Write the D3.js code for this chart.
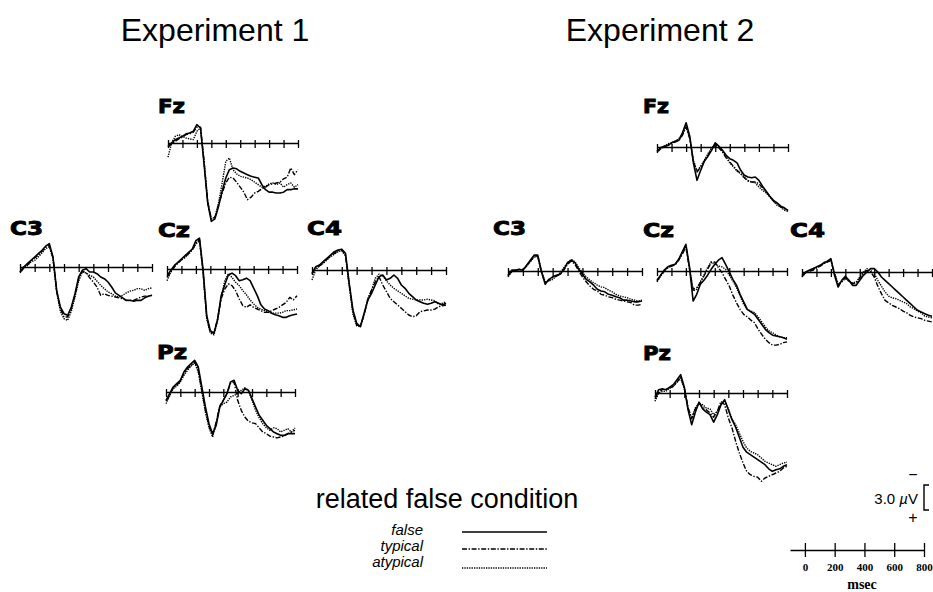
<!DOCTYPE html>
<html><head><meta charset="utf-8">
<script src="https://cdn.jsdelivr.net/npm/d3@7"></script>
<style>body{margin:0;background:#fff}</style>
</head><body>
<svg id="c" width="933" height="592"></svg>
<script>
// ---------- DATA ----------
const timesMs = [-100,-75,-50,-25,0,25,50,75,100,125,150,175,200,225,250,275,300,325,350,375,400,425,450,475,500,525,550,575,600,625,650,675,700,725,750,775,800];
const axisTicksMs = [-100,0,100,200,300,400,500,600,700,800];
const scaleTicksMs = [0,200,400,600,800];
const scaleUnit = "msec";
const experiments = ["Experiment 1","Experiment 2"];
const electrodes = ["Fz","C3","Cz","C4","Pz"];
const conditions = ["false","typical","atypical"];
const legendTitle = "related false condition";
const calibrationUV = 3.0;

// values in µV (negative plotted up)
const e1FzFalse    = [0.4,0,-0.4,-0.6,-0.8,-1.1,-1.2,-1.4,-2.2,-1.8,2.6,7.2,9.4,9.1,7.6,5.8,4.2,3.2,3.0,3.1,3.4,3.6,3.8,4.0,4.1,4.2,5.0,5.6,5.9,5.9,6.0,6.0,5.9,5.6,5.6,5.5,5.5];
const e1FzTypical  = [0.5,0.1,-0.2,-0.5,-0.7,-1.0,-1.1,-1.3,-1.9,-1.9,2.2,7.0,9.1,8.9,7.4,6.0,4.8,4.1,4.2,4.7,5.3,5.9,6.8,6.5,6.0,5.8,5.5,5.3,5.0,4.9,4.8,4.7,4.3,4.1,3.0,3.8,3.2];
const e1FzAtypical = [1.7,0,-0.8,-1.0,-0.8,-0.6,-0.5,-0.4,-1.4,-1.8,2.4,7.2,9.1,8.9,7.2,4.8,2.2,1.8,3.2,3.7,4.0,4.1,4.2,4.4,4.7,5.0,5.3,5.2,4.9,4.8,5.0,4.8,5.3,5.0,4.8,5.3,5.0];

const e1C3False    = [0.6,0,-0.4,-0.8,-1.2,-1.6,-2.0,-2.5,-2.8,-1.2,2.8,4.8,5.6,5.8,4.8,3.2,1.2,0.4,0.2,0.6,0.6,0.8,1.2,1.4,1.8,2.4,3.1,3.4,3.7,4.0,4.0,4.1,4.0,4.0,3.7,3.5,3.4];
const e1C3Typical  = [0.6,0.1,-0.2,-0.7,-1.1,-1.4,-1.9,-2.4,-2.6,-1.1,2.9,5.0,6.0,6.0,5.0,3.4,1.4,0.5,0.7,1.3,1.8,2.4,3.4,3.2,3.4,3.5,3.6,3.7,3.8,4.0,4.0,4.0,3.8,3.6,3.5,3.5,3.4];
const e1C3Atypical = [0.7,0.2,-0.2,-0.6,-0.8,-1.2,-1.7,-2.2,-2.4,-1.0,3.0,5.3,6.2,6.4,5.3,3.6,1.7,0.6,0.7,1.0,1.2,1.7,2.2,2.6,3.0,3.2,3.5,3.6,3.4,3.1,2.9,2.8,2.6,2.6,2.8,2.6,2.5];

const e1CzFalse    = [0.8,0.2,-0.4,-0.8,-1.2,-1.6,-2.0,-2.4,-3.4,-3.7,0.1,5.6,7.4,7.7,6.1,3.2,1.9,0.7,0.5,0.8,1.4,1.3,1.1,1.4,2.3,3.2,4.3,4.8,5.0,5.3,5.5,5.6,5.8,5.8,5.6,5.5,5.4];
const e1CzTypical  = [1.0,0.4,-0.2,-0.7,-1.1,-1.4,-1.9,-2.3,-3.1,-3.5,0.4,5.8,7.6,7.7,6.0,3.6,2.4,1.8,2.0,2.6,3.6,4.4,4.6,4.3,4.6,4.8,5.0,5.2,5.2,5.0,4.8,4.6,4.3,4.0,3.4,3.7,3.2];
const e1CzAtypical = [1.4,0.4,-0.4,-0.7,-1.1,-1.4,-1.8,-2.3,-3.0,-3.4,0.5,6.0,7.7,7.9,6.2,3.4,1.4,0.6,1.0,1.6,2.0,2.6,3.1,3.7,4.2,4.6,4.8,5.0,5.2,5.3,5.3,5.3,5.2,5.0,5.0,4.9,4.8];

const e1C4False    = [0.4,-0.4,-0.6,-1.0,-1.4,-1.8,-2.2,-2.4,-2.5,-2.0,1.6,4.8,6.4,6.8,5.2,3.6,2.8,1.8,0.8,0.6,1.2,1.0,0.6,1.0,1.8,2.2,2.8,3.2,3.6,3.8,4.0,4.1,4.0,3.8,4.0,4.2,4.0];
const e1C4Typical  = [0.5,-0.2,-0.5,-0.8,-1.3,-1.7,-2.0,-2.3,-2.4,-1.8,1.8,5.0,6.6,6.7,5.4,3.6,2.4,1.4,0.8,1.8,2.6,3.4,3.8,4.2,4.6,5.0,5.4,5.6,5.5,5.0,4.9,4.8,4.8,4.7,4.4,4.3,4.2];
const e1C4Atypical = [1.2,0,-0.5,-0.8,-1.2,-1.6,-1.9,-2.2,-2.3,-1.7,1.9,5.3,6.7,6.8,5.4,3.4,2.4,1.0,0.5,0.7,1.3,1.8,2.2,2.5,2.8,3.1,3.4,3.5,3.6,3.6,3.6,3.5,3.6,3.7,4.1,4.0,3.8];

const e1PzFalse    = [1.0,0.2,-0.6,-1.0,-1.4,-2.4,-3.0,-3.4,-3.8,-3.0,-0.6,1.8,3.8,5.0,4.0,1.8,1.0,0.2,-1.2,-1.4,-0.2,0.2,-0.4,-0.2,0.8,1.8,2.8,3.4,4.0,4.4,4.8,5.0,5.2,5.2,5.0,5.0,5.0];
const e1PzTypical  = [1.1,0.4,-0.5,-0.8,-1.3,-2.2,-2.8,-3.2,-3.6,-2.6,-0.2,2.2,4.1,5.2,3.6,1.7,1.0,0.2,-1.0,-1.2,1.0,2.2,3.0,3.5,3.7,3.8,4.3,4.8,5.0,5.3,5.4,5.5,5.4,5.3,5.0,4.8,4.6];
const e1PzAtypical = [1.4,0.5,-0.4,-0.7,-1.2,-2.0,-2.6,-3.1,-3.5,-2.4,0,2.4,4.3,5.4,3.8,1.8,1.4,1.2,0.6,0.4,0.2,-0.2,-0.5,-0.2,1.0,2.2,3.1,3.8,4.3,4.6,4.3,4.4,4.8,4.6,4.4,4.8,4.3];

const e2FzFalse    = [0.5,0.1,-0.1,-0.2,-0.5,-0.7,-0.8,-1.7,-2.9,-1.3,1.9,4.0,2.8,1.7,1.1,0.4,-0.5,-0.1,0.4,1.0,1.4,1.6,1.9,2.8,3.4,3.6,3.7,3.6,4.0,4.7,5.3,5.9,6.4,6.7,7.1,7.3,7.6];
const e2FzTypical  = [0.6,0.2,0,-0.2,-0.4,-0.6,-0.8,-1.4,-2.4,-1.0,1.7,3.0,2.4,1.7,1.0,0.2,-0.4,0.1,0.6,1.3,1.8,2.3,2.8,3.2,3.7,4.1,4.2,4.2,4.4,4.9,5.4,5.9,6.5,6.8,7.2,7.4,7.7];
const e2FzAtypical = [0.7,0.2,-0.1,-0.4,-0.5,-0.7,-1.0,-1.6,-2.5,-1.1,1.6,2.9,2.3,1.6,0.8,0.1,-0.2,0,0.5,1.2,1.9,2.4,2.9,3.2,3.6,4.0,4.2,4.3,4.8,5.2,5.5,6.0,6.5,7.0,7.2,7.6,7.7];

const e2C3False    = [0.5,-0.1,-0.1,-0.2,-0.1,-0.7,-1.3,-1.9,-1.9,0.1,1.6,1.0,0.7,0.5,0.4,-0.2,-1.0,-1.3,-1.0,-0.2,0.4,1.0,1.3,1.7,2.2,2.4,2.5,2.8,2.9,3.1,3.2,3.5,3.5,3.6,3.7,3.7,3.6];
const e2C3Typical  = [0.6,0,-0.1,-0.2,-0.1,-0.6,-1.2,-1.7,-1.7,0.2,1.4,1.1,0.8,0.6,0.4,-0.1,-0.8,-1.2,-0.8,0,0.7,1.3,1.8,2.2,2.4,2.8,2.9,3.1,3.2,3.4,3.5,3.6,3.7,3.8,4.1,4.1,4.0];
const e2C3Atypical = [0.7,0.1,0,-0.1,-0.2,-0.6,-1.1,-1.7,-1.8,0,1.3,1.2,1.0,0.6,0.2,-0.4,-1.0,-1.4,-1.1,-0.4,0.2,0.7,1.1,1.4,1.7,1.9,2.0,2.3,2.5,2.8,3.0,3.1,3.2,3.4,3.5,3.6,3.5];

const e2CzFalse    = [1.1,0.5,-0.1,-0.5,-0.7,-0.8,-1.4,-2.3,-3.2,-0.5,3.6,2.8,1.6,1.1,0.5,-0.2,-0.8,-1.3,-1.6,-0.8,0.1,1.0,1.7,2.8,3.7,4.6,4.9,5.2,5.8,6.4,7.0,7.4,7.7,7.8,7.9,8.0,8.2];
const e2CzTypical  = [1.2,0.6,0,-0.4,-0.6,-0.7,-1.3,-2.0,-2.9,-0.2,2.2,2.0,1.4,0.6,-0.2,-1.0,-1.1,-0.4,0.2,1.0,1.8,2.9,3.8,4.6,5.2,5.5,5.9,6.2,7.0,7.6,8.2,8.6,8.9,8.9,8.8,8.6,8.5];
const e2CzAtypical = [1.3,0.6,0,-0.4,-0.6,-0.8,-1.3,-2.2,-3.0,-0.4,2.4,2.2,1.3,0.5,-0.4,-1.1,-0.8,-0.6,-0.5,-0.2,0.5,1.2,2.0,3.0,4.0,4.6,4.8,5.0,5.5,6.1,6.7,7.2,7.4,7.7,7.9,8.0,8.0];

const e2C4False    = [0.4,0,-0.2,-0.4,-0.6,-0.8,-1.1,-1.3,-1.6,0.4,1.8,1.0,0.5,1.0,1.6,1.6,1.0,0.4,0,-0.4,-0.4,0,0.6,1.0,1.4,1.8,2.2,2.6,3.0,3.4,3.8,4.2,4.6,4.8,5.0,5.2,5.3];
const e2C4Typical  = [0.5,0.1,-0.1,-0.2,-0.5,-0.7,-1.0,-1.2,-1.4,0.2,1.6,1.1,0.7,1.1,1.4,1.3,0.7,0.1,-0.2,0,0.6,1.7,2.6,3.4,3.7,4.0,4.2,4.4,4.7,4.9,5.2,5.4,5.5,5.6,5.8,5.9,6.0];
const e2C4Atypical = [0.6,0.1,-0.1,-0.4,-0.5,-0.7,-1.0,-1.2,-1.4,0.1,1.4,1.2,0.8,1.1,1.3,1.2,0.6,0,-0.4,-0.2,0.2,1.0,1.7,2.4,2.9,3.1,3.2,3.4,3.6,3.8,4.2,4.4,4.7,4.9,5.3,5.4,5.5];

const e2PzFalse    = [0.5,-0.4,-0.5,-0.4,-0.7,-1.0,-1.6,-2.2,-0.7,2.0,3.8,2.3,1.1,1.9,2.3,2.6,3.5,2.6,1.4,0.8,2.0,3.2,4.1,5.3,6.5,7.1,7.4,7.7,8.0,8.3,8.6,9.1,9.4,9.2,9.1,8.8,8.6];
const e2PzTypical  = [0.7,-0.1,-0.4,-0.4,-0.6,-0.8,-1.3,-1.9,-0.6,1.7,3.1,1.9,1.2,1.7,2.0,2.4,2.9,2.2,1.0,1.4,3.0,4.2,5.8,7.2,8.4,9.4,9.8,10.0,10.1,10.6,10.2,10.0,9.8,9.6,9.4,9.0,8.8];
const e2PzAtypical = [1.0,0,-0.2,-0.2,-0.6,-0.8,-1.3,-1.8,-0.5,1.8,3.0,1.8,1.2,1.4,1.8,1.9,2.6,2.2,1.4,1.0,1.9,3.1,3.8,4.8,5.8,6.6,7.0,7.2,7.4,7.8,8.2,8.4,8.6,8.8,8.6,8.4,8.3];

// ---------- LAYOUT ----------
const pxPerUV = 25 / 3;
const panelLayout = [
  {exp:0, el:"Fz", x:168, y:143, w:130, lx:158, ly:113, lw:27, data:[e1FzFalse,e1FzTypical,e1FzAtypical]},
  {exp:0, el:"C3", x:20,  y:267, w:132, lx:10,  ly:235, lw:33, data:[e1C3False,e1C3Typical,e1C3Atypical]},
  {exp:0, el:"Cz", x:167, y:269, w:130, lx:158, ly:237, lw:32, data:[e1CzFalse,e1CzTypical,e1CzAtypical]},
  {exp:0, el:"C4", x:312, y:270, w:134, lx:307, ly:235, lw:35, data:[e1C4False,e1C4Typical,e1C4Atypical]},
  {exp:0, el:"Pz", x:166, y:392, w:129, lx:157, ly:359, lw:30, data:[e1PzFalse,e1PzTypical,e1PzAtypical]},
  {exp:1, el:"Fz", x:657, y:147, w:131, lx:643, ly:113, lw:26, data:[e2FzFalse,e2FzTypical,e2FzAtypical]},
  {exp:1, el:"C3", x:508, y:271, w:134, lx:493, ly:235, lw:33, data:[e2C3False,e2C3Typical,e2C3Atypical]},
  {exp:1, el:"Cz", x:657, y:271, w:130, lx:643, ly:237, lw:31, data:[e2CzFalse,e2CzTypical,e2CzAtypical]},
  {exp:1, el:"C4", x:802, y:272, w:130, lx:790, ly:237, lw:35, data:[e2C4False,e2C4Typical,e2C4Atypical]},
  {exp:1, el:"Pz", x:655, y:393, w:132, lx:643, ly:360, lw:28, data:[e2PzFalse,e2PzTypical,e2PzAtypical]}
];
const condStyle = {
  "false":    {dash:null,            width:1.6},
  "typical":  {dash:"5,1.6,1.4,1.6", width:1.4},
  "atypical": {dash:"1.3,1.1",       width:1.4}
};

const svg = d3.select("#c");
svg.append("rect").attr("width",933).attr("height",592).attr("fill","#fff");

// titles
svg.append("text").attr("x",215).attr("y",41).attr("text-anchor","middle")
  .attr("font-family","Liberation Sans, Arial, sans-serif").attr("font-size",32).text(experiments[0]);
svg.append("text").attr("x",660).attr("y",41).attr("text-anchor","middle")
  .attr("font-family","Liberation Sans, Arial, sans-serif").attr("font-size",32).text(experiments[1]);

panelLayout.forEach(p => {
  const g = svg.append("g");
  const x = d3.scaleLinear().domain([-100,800]).range([p.x, p.x + p.w]);
  const y = d3.scaleLinear().domain([0, 1]).range([p.y, p.y + pxPerUV]);
  // label
  g.append("text").attr("x",p.lx).attr("y",p.ly)
    .attr("font-family","DejaVu Sans, sans-serif").attr("font-weight","bold").attr("font-size",19)
    .attr("stroke","#000").attr("stroke-width",0.9)
    .attr("textLength",p.lw).attr("lengthAdjust","spacingAndGlyphs").text(p.el);
  // axis
  const ax = g.append("g").attr("transform",`translate(0,${p.y})`)
    .call(d3.axisBottom(x).tickValues(axisTicksMs).tickSize(5).tickSizeOuter(0).tickFormat(""));
  ax.select(".domain").attr("stroke","#000").attr("stroke-width",1.6);
  ax.selectAll(".tick line").attr("stroke","#000").attr("stroke-width",1.3).attr("y1",-3);
  // waveforms
  conditions.forEach((c,ci) => {
    const line = d3.line().x((d,i)=>x(timesMs[i])).y(d=>y(d)).curve(d3.curveLinear);
    g.append("path").attr("d",line(p.data[ci])).attr("fill","none").attr("stroke","#000")
      .attr("stroke-width",condStyle[c].width).attr("stroke-dasharray",condStyle[c].dash)
      .attr("stroke-linejoin","round");
  });
});

// legend
svg.append("text").attr("x",447).attr("y",508).attr("text-anchor","middle")
  .attr("font-family","Liberation Sans, Arial, sans-serif").attr("font-size",27).text(legendTitle);
const legY = [532, 549, 568];
const legTextY = [535, 551, 567];
conditions.forEach((c,i) => {
  svg.append("text").attr("x",423).attr("y",legTextY[i]).attr("text-anchor","end")
    .attr("font-family","Liberation Sans, Arial, sans-serif").attr("font-style","italic").attr("font-size",15).text(c);
  svg.append("line").attr("x1",462).attr("x2",547).attr("y1",legY[i]).attr("y2",legY[i])
    .attr("stroke","#000").attr("stroke-width",condStyle[c].width).attr("stroke-dasharray",condStyle[c].dash);
});

// calibration
const calY = d3.scaleLinear().domain([0, calibrationUV]).range([485, 485 + calibrationUV*pxPerUV]);
svg.append("path").attr("d",`M929,${calY(0)}H924V${calY(calibrationUV)}H929`).attr("fill","none").attr("stroke","#000").attr("stroke-width",1.4);
svg.append("text").attr("x",918).attr("y",504).attr("text-anchor","end")
  .attr("font-family","Liberation Sans, Arial, sans-serif").attr("font-size",15)
  .html(`${calibrationUV.toFixed(1)}  <tspan font-style="italic">µ</tspan>V`);
svg.append("text").attr("x",913).attr("y",480).attr("text-anchor","middle")
  .attr("font-family","Liberation Sans, Arial, sans-serif").attr("font-size",16).text("−");
svg.append("text").attr("x",913).attr("y",523).attr("text-anchor","middle")
  .attr("font-family","Liberation Sans, Arial, sans-serif").attr("font-size",16).text("+");

const sx = d3.scaleLinear().domain([-100,800]).range([790,924]);
const sax = svg.append("g").attr("transform","translate(0,550)")
  .call(d3.axisBottom(sx).tickValues(scaleTicksMs).tickSize(7).tickSizeOuter(0).tickPadding(6));
sax.select(".domain").attr("stroke","#000").attr("stroke-width",1.5);
sax.selectAll(".tick line").attr("stroke","#000").attr("stroke-width",1.3).attr("y1",-7);
sax.selectAll(".tick text").attr("font-family","Liberation Serif, serif").attr("font-weight","bold").attr("font-size",11).attr("fill","#000");
svg.append("text").attr("x",862).attr("y",589).attr("text-anchor","middle")
  .attr("font-family","Liberation Serif, serif").attr("font-weight","bold").attr("font-size",14).text(scaleUnit);
</script>
</body></html>
